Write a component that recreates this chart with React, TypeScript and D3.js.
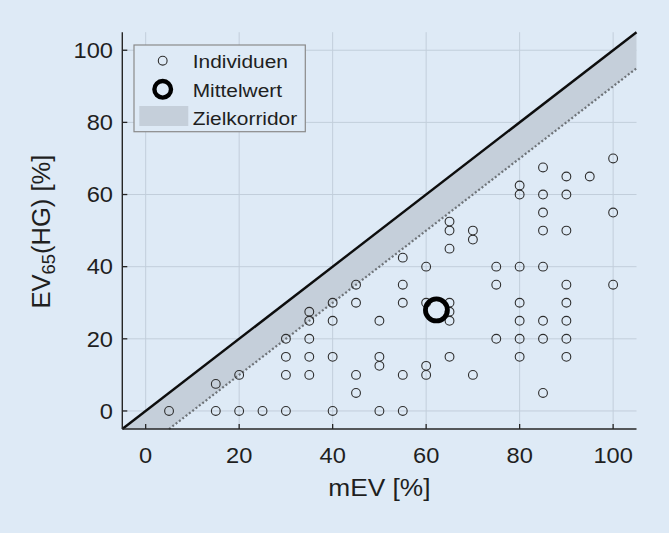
import React from "react";
import * as d3 from "d3";

const xTicks = [0, 20, 40, 60, 80, 100];
const yTicks = [0, 20, 40, 60, 80, 100];
const xDomain = [-5, 105];
const yDomain = [-5, 105];

// individual points: mEV (x), EV65(HG) (y)
const indivX = [
  5, 15, 20, 25, 30, 40, 50, 55,
  45, 85,
  15,
  20, 30, 35, 45, 55, 60, 70,
  50, 60,
  30, 35, 40, 50, 65, 80, 90,
  30, 35, 75, 80, 85, 90,
  35, 40, 50, 65, 80, 85, 90,
  35, 65,
  40, 45, 55, 60, 65, 80, 90,
  45, 55, 75, 90, 100,
  60, 75, 80, 85,
  55,
  65,
  70,
  65, 70, 85, 90,
  65,
  85, 100,
  80, 85, 90,
  80,
  90, 95,
  85,
  100,
];
const indivY = [
  0, 0, 0, 0, 0, 0, 0, 0,
  5, 5,
  7.5,
  10, 10, 10, 10, 10, 10, 10,
  12.5, 12.5,
  15, 15, 15, 15, 15, 15, 15,
  20, 20, 20, 20, 20, 20,
  25, 25, 25, 25, 25, 25, 25,
  27.5, 27.5,
  30, 30, 30, 30, 30, 30, 30,
  35, 35, 35, 35, 35,
  40, 40, 40, 40,
  42.5,
  45,
  47.5,
  50, 50, 50, 50,
  52.5,
  55, 55,
  60, 60, 60,
  62.5,
  65, 65,
  67.5,
  70,
];
const meanX = [62.2];
const meanY = [28];
const corridorWidth = 10;
const legendLabels = ["Individuen", "Mittelwert", "Zielkorridor"];

const BG = "#deeaf6";
const FONT = "'Liberation Sans', Arial, Helvetica, sans-serif";
const TXT = "#1f1f1f";

export default function App() {
  const left = 122.3, right = 636.5, top = 32.2, bottom = 429;
  const x = d3.scaleLinear().domain(xDomain).range([left, right]);
  const y = d3.scaleLinear().domain(yDomain).range([bottom, top]);

  const corridor = d3
    .area<number>()
    .x((d) => x(d))
    .y0((d) => y(Math.max(d - corridorWidth, yDomain[0])))
    .y1((d) => y(d));
  const corridorXs = [xDomain[0], xDomain[0] + corridorWidth, xDomain[1]];
  const upper = d3.line<number>().x((d) => x(d)).y((d) => y(d));
  const lowerXs = [xDomain[0] + corridorWidth, xDomain[1]];
  const lower = d3.line<number>().x((d) => x(d)).y((d) => y(d - corridorWidth));

  const sx = 1.1;

  return (
    <svg
      width={669}
      height={533}
      style={{ position: "fixed", left: 0, top: 0, background: BG, display: "block" }}
    >
      <rect x={0} y={0} width={669} height={533} fill={BG} />
      {/* grid */}
      {xTicks.map((t) => (
        <line key={"gx" + t} x1={x(t)} x2={x(t)} y1={top} y2={bottom} stroke="#c2cedb" strokeWidth={1} />
      ))}
      {yTicks.map((t) => (
        <line key={"gy" + t} x1={left} x2={right} y1={y(t)} y2={y(t)} stroke="#c2cedb" strokeWidth={1} />
      ))}
      {/* corridor */}
      <path d={corridor(corridorXs) || ""} fill="#c5cfda" stroke="none" />
      <path d={lower(lowerXs) || ""} fill="none" stroke="#6e7378" strokeWidth={2.2} strokeDasharray="2 2.2" />
      <path d={upper(xDomain) || ""} fill="none" stroke="#0d0d0d" strokeWidth={2.4} />
      {/* points */}
      {indivX.map((v, i) => (
        <circle key={"p" + i} cx={x(v)} cy={y(indivY[i])} r={4.4} fill="none" stroke="#2e2e2e" strokeWidth={1.1} />
      ))}
      {meanX.map((v, i) => (
        <circle key={"m" + i} cx={x(v)} cy={y(meanY[i])} r={11} fill="none" stroke="#000" strokeWidth={4.8} />
      ))}
      {/* axes */}
      <line x1={left} x2={right} y1={bottom} y2={bottom} stroke="#262626" strokeWidth={1.4} />
      <line x1={left} x2={left} y1={top} y2={bottom} stroke="#262626" strokeWidth={1.4} />
      {xTicks.map((t) => (
        <g key={"xt" + t}>
          <line x1={x(t)} x2={x(t)} y1={bottom} y2={bottom - 5} stroke="#262626" strokeWidth={1.3} />
          <text
            transform={`translate(${x(t)},463) scale(${sx},1)`}
            textAnchor="middle"
            fontFamily={FONT}
            fontSize={21.5}
            fill={TXT}
          >
            {t}
          </text>
        </g>
      ))}
      {yTicks.map((t) => (
        <g key={"yt" + t}>
          <line x1={left} x2={left + 5} y1={y(t)} y2={y(t)} stroke="#262626" strokeWidth={1.3} />
          <text
            transform={`translate(113,${y(t) + 7.7}) scale(${sx},1)`}
            textAnchor="end"
            fontFamily={FONT}
            fontSize={21.5}
            fill={TXT}
          >
            {t}
          </text>
        </g>
      ))}
      {/* axis labels */}
      <text
        transform={`translate(${(left + right) / 2},496) scale(1.12,1)`}
        textAnchor="middle"
        fontFamily={FONT}
        fontSize={23.5}
        fill={TXT}
      >
        mEV [%]
      </text>
      <text
        transform={`translate(50,${(top + bottom) / 2 + 1}) rotate(-90)`}
        textAnchor="middle"
        fontFamily={FONT}
        fontSize={25.5}
        fill={TXT}
      >
        EV
        <tspan fontSize={18.5} dy={5}>65</tspan>
        <tspan dy={-5}>(HG) [%]</tspan>
      </text>
      {/* legend */}
      <rect x={134} y={45} width={171.3} height={86.7} fill={BG} stroke="#8a8a8a" strokeWidth={1.2} />
      <circle cx={162.7} cy={60.7} r={4.4} fill="none" stroke="#2e2e2e" strokeWidth={1.1} />
      <circle cx={162.7} cy={89.3} r={8.3} fill="none" stroke="#000" strokeWidth={4.4} />
      <rect x={139.3} y={106} width={49} height={20} fill="#c5cfda" />
      {legendLabels.map((l, i) => (
        <text
          key={l}
          transform={`translate(192.7,${[68, 96.7, 125][i]}) scale(1.1,1)`}
          fontFamily={FONT}
          fontSize={19}
          fill={TXT}
        >
          {l}
        </text>
      ))}
    </svg>
  );
}
